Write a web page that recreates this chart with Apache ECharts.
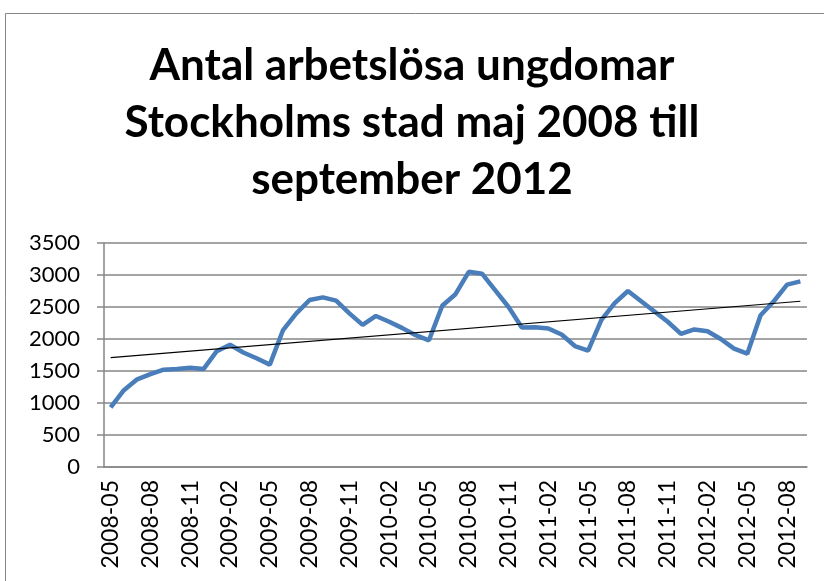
<!DOCTYPE html>
<html>
<head>
<meta charset="utf-8">
<script src="https://cdn.jsdelivr.net/npm/echarts@6/dist/echarts.min.js"></script>
<style>
  html, body { margin: 0; padding: 0; background: #fff; }
  #chart { width: 824px; height: 581px; }
</style>
</head>
<body>
<div id="chart"></div>
<script>
// months from maj 2008 to september 2012
var months = [
  '2008-05','2008-06','2008-07','2008-08','2008-09','2008-10','2008-11','2008-12',
  '2009-01','2009-02','2009-03','2009-04','2009-05','2009-06','2009-07','2009-08',
  '2009-09','2009-10','2009-11','2009-12','2010-01','2010-02','2010-03','2010-04',
  '2010-05','2010-06','2010-07','2010-08','2010-09','2010-10','2010-11','2010-12',
  '2011-01','2011-02','2011-03','2011-04','2011-05','2011-06','2011-07','2011-08',
  '2011-09','2011-10','2011-11','2011-12','2012-01','2012-02','2012-03','2012-04',
  '2012-05','2012-06','2012-07','2012-08','2012-09'
];
var arbetslosa = [
  930, 1200, 1370, 1450, 1520, 1530, 1550, 1530,
  1810, 1910, 1790, 1700, 1600, 2140, 2400, 2610,
  2650, 2600, 2400, 2220, 2360, 2270, 2170, 2060,
  1980, 2520, 2700, 3050, 3020, 2760, 2500, 2180,
  2185, 2165, 2070, 1890, 1820, 2300, 2560, 2750,
  2590, 2430, 2270, 2080, 2150, 2120, 2000, 1850,
  1770, 2370, 2590, 2850, 2900
];
// trendline end values
var trend = [1710, 2590];
var yTicks = { min: 0, max: 3500, interval: 500 };

var chart = echarts.init(document.getElementById('chart'));
var grey = '#868686';
var font = 'Lato, "Open Sans", sans-serif';

chart.setOption({
  animation: false,
  title: {
    text: 'Antal arbetslösa ungdomar\nStockholms stad maj 2008 till\nseptember 2012',
    left: 'center',
    top: 32,
    textStyle: {
      fontFamily: font,
      fontWeight: 'bold',
      fontSize: 44,
      lineHeight: 57,
      color: '#000'
    }
  },
  graphic: [{
    type: 'rect',
    shape: { x: 5.5, y: 13.5, width: 900, height: 700 },
    style: { fill: 'none', stroke: grey, lineWidth: 1 },
    silent: true
  }],
  grid: { left: 104, right: 17, top: 243, bottom: 114 },
  xAxis: {
    type: 'category',
    data: months,
    boundaryGap: true,
    axisLine: { lineStyle: { color: grey, width: 1.5 } },
    axisTick: { interval: 0, length: 6, lineStyle: { color: grey, width: 1.5 } },
    axisLabel: {
      interval: 2,
      rotate: 90,
      margin: 13,
      fontFamily: font,
      fontSize: 23,
      color: '#000'
    }
  },
  yAxis: {
    type: 'value',
    min: yTicks.min,
    max: yTicks.max,
    interval: yTicks.interval,
    axisLine: { show: true, lineStyle: { color: grey, width: 1.5 } },
    axisTick: { show: true, length: 7, lineStyle: { color: grey, width: 1.5 } },
    splitLine: { lineStyle: { color: grey, width: 1.5 } },
    axisLabel: {
      margin: 24,
      fontFamily: font,
      fontSize: 22,
      color: '#000',
      formatter: function (v) { return String(v); }
    }
  },
  series: [{
    type: 'line',
    data: arbetslosa,
    symbol: 'none',
    lineStyle: { color: '#4a7ebb', width: 4.5 },
    markLine: {
      silent: true,
      symbol: 'none',
      label: { show: false },
      lineStyle: { color: '#000', width: 1.2, type: 'solid' },
      data: [[
        { coord: [months[0], trend[0]] },
        { coord: [months[months.length - 1], trend[1]] }
      ]]
    }
  }]
});
</script>
</body>
</html>
